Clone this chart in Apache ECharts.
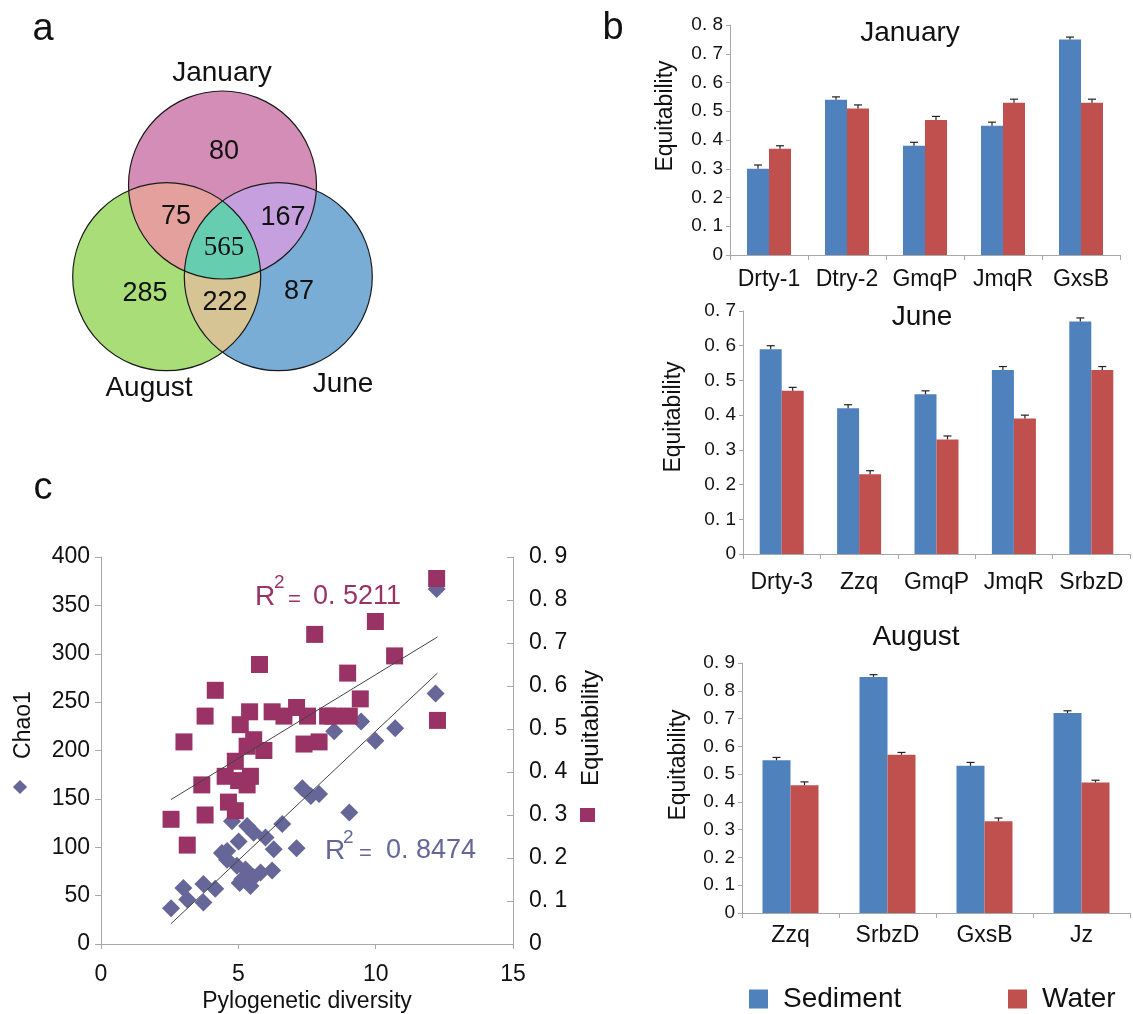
<!DOCTYPE html>
<html><head><meta charset="utf-8">
<script src="https://cdn.jsdelivr.net/npm/echarts@6/dist/echarts.min.js"></script>
<style>html,body{margin:0;padding:0;background:#fff}#c{width:1133px;height:1014px}</style>
</head><body><div id="c"></div>
<script>
// ---------------- data ----------------
const vennRegions = ['January', 'August', 'June', 'January ∩ August', 'January ∩ June', 'August ∩ June', 'January ∩ August ∩ June'];
const vennCounts = [80, 285, 87, 75, 167, 222, 565];

const janCategories = ['Drty-1', 'Dtry-2', 'GmqP', 'JmqR', 'GxsB'];
const janSediment = [0.30, 0.54, 0.38, 0.45, 0.75];
const janWater = [0.37, 0.51, 0.47, 0.53, 0.53];
const janSedimentErr = [0.013, 0.01, 0.012, 0.012, 0.008];
const janWaterErr = [0.01, 0.012, 0.012, 0.012, 0.012];

const junCategories = ['Drty-3', 'Zzq', 'GmqP', 'JmqR', 'SrbzD'];
const junSediment = [0.59, 0.42, 0.46, 0.53, 0.67];
const junWater = [0.47, 0.23, 0.33, 0.39, 0.53];
const junSedimentErr = [0.01, 0.01, 0.01, 0.01, 0.01];
const junWaterErr = [0.01, 0.01, 0.01, 0.01, 0.01];

const augCategories = ['Zzq', 'SrbzD', 'GxsB', 'Jz'];
const augSediment = [0.55, 0.85, 0.53, 0.72];
const augWater = [0.46, 0.57, 0.33, 0.47];
const augSedimentErr = [0.01, 0.008, 0.012, 0.008];
const augWaterErr = [0.012, 0.008, 0.012, 0.008];

// panel c: [phylogenetic diversity, Chao1]
const pdChao1 = [[2.55,37],[3.00,58],[3.14,46],[3.73,62],[3.73,43],[4.16,57],[4.40,94],[4.59,96],[4.59,87],[4.77,127],
  [4.95,81],[5.01,106],[5.05,63],[5.14,67],[5.26,77],[5.32,122],[5.44,60],[5.56,115],[5.56,69],[5.81,74],[5.99,110],
  [6.23,76],[6.29,98],[6.60,124],[7.12,99],[7.33,161],[7.64,153],[7.94,155],[8.49,220],[9.04,136],[9.47,230],
  [9.99,210],[10.71,223],[12.18,259],[12.22,367]];
// panel c: [phylogenetic diversity, Equitability]
const pdEquit = [[2.55,0.29],[3.14,0.23],[3.02,0.47],[3.67,0.37],[3.79,0.30],[3.79,0.53],[4.16,0.59],[4.52,0.39],
  [4.64,0.33],[4.89,0.31],[4.89,0.425],[5.01,0.38],[5.07,0.51],[5.32,0.37],[5.32,0.46],[5.41,0.54],[5.44,0.39],
  [5.56,0.475],[5.77,0.65],[5.93,0.45],[6.23,0.54],[6.66,0.53],[7.12,0.55],[7.52,0.53],[7.39,0.465],[7.94,0.47],
  [7.78,0.72],[8.25,0.53],[8.45,0.53],[9.04,0.53],[8.98,0.63],[9.44,0.57],[9.99,0.75],[10.69,0.67],[12.22,0.85],[12.25,0.52]];
const trendChao1 = [[2.55, 21], [12.25, 280]];
const trendEquit = [[2.55, 0.336], [12.25, 0.714]];
const r2Chao1 = '0. 8474';
const r2Equit = '0. 5211';

// ---------------- layout / style ----------------
const FONT = '"Liberation Sans", Arial, Helvetica, sans-serif';
const SERIF = '"Liberation Serif", "Times New Roman", serif';
const AXIS_GRAY = '#a8a8a8';
const BLUE = '#4F81BD', RED = '#C0504D';
const PURPLE = '#993366', SLATE = '#666699';
const TXT = '#111';

const vennCircles = [{cx:222.5, cy:185, r:94}, {cx:166.7, cy:276.7, r:94}, {cx:278.3, cy:276.7, r:94}];
const vennMembers = [[0],[1],[2],[0,1],[0,2],[1,2],[0,1,2]];
const vennColors = ['#D48DB6', '#A8DD78', '#7AADD5', '#E4A09D', '#C6A0DE', '#D6C494', '#66CDB0'];
const vennLabelPos = [[224,152],[145,294],[299,292],[176,217],[283,218],[225,303],[224,248]];
const vennSetLabelPos = [[222,73],[149,388],[343,384]];

function decFmt(v) { return v === 0 ? '0' : v.toFixed(1).replace('.', '. '); }

function regionPolygon(members) {
  const pts = [];
  const N = 720;
  members.forEach(m => {
    const c = vennCircles[m];
    for (let k = 0; k < N; k++) {
      const a = 2 * Math.PI * k / N;
      const x = c.cx + c.r * Math.cos(a), y = c.cy + c.r * Math.sin(a);
      const ok = members.every(o => o === m ||
        Math.hypot(x - vennCircles[o].cx, y - vennCircles[o].cy) <= vennCircles[o].r + 1e-9);
      if (ok) pts.push([x, y]);
    }
  });
  let mx = 0, my = 0;
  pts.forEach(p => { mx += p[0]; my += p[1]; });
  mx /= pts.length; my /= pts.length;
  pts.sort((p, q) => Math.atan2(p[1]-my, p[0]-mx) - Math.atan2(q[1]-my, q[0]-mx));
  return pts;
}

function renderVenn(params, api) {
  const i = params.dataIndex;
  const members = vennMembers[i];
  const children = [];
  if (members.length === 1) {
    const c = vennCircles[members[0]];
    const p = api.coord([c.cx, c.cy]);
    const rr = api.size([c.r, 0])[0];
    children.push({type:'circle', z2:0, shape:{cx:p[0], cy:p[1], r:rr}, style:{fill:vennColors[i]}});
    children.push({type:'circle', z2:5, shape:{cx:p[0], cy:p[1], r:rr}, style:{fill:null, stroke:'#1a1a1a', lineWidth:1.2}});
    const sp = api.coord(vennSetLabelPos[members[0]]);
    children.push({type:'text', z2:10, x:sp[0], y:sp[1], style:{text:vennRegions[i], fontSize:28, fontFamily:FONT, fill:TXT, align:'center', verticalAlign:'middle'}});
  } else {
    const pts = regionPolygon(members).map(p => api.coord(p));
    children.push({type:'polygon', z2:members.length, shape:{points:pts}, style:{fill:vennColors[i]}});
  }
  const lp = api.coord(vennLabelPos[i]);
  children.push({type:'text', z2:10, x:lp[0], y:lp[1], style:{text:String(api.value(0)), fontSize: members.length === 3 ? 27 : 27,
    fontFamily: members.length === 3 ? SERIF : FONT, fill:TXT, align:'center', verticalAlign:'middle'}});
  return {type:'group', children};
}

function catAxis(gridIndex, data, margin) {
  return {type:'category', gridIndex, data,
    axisLine:{lineStyle:{color:AXIS_GRAY}},
    axisTick:{show:true, length:5, lineStyle:{color:AXIS_GRAY}},
    axisLabel:{interval:0, margin, color:TXT, fontFamily:FONT, fontSize:23},
    splitLine:{show:false}};
}
function valAxis(gridIndex, max) {
  return {type:'value', gridIndex, min:0, max, interval:0.1,
    axisLine:{show:true, lineStyle:{color:AXIS_GRAY}},
    axisTick:{show:true, length:4, lineStyle:{color:AXIS_GRAY}},
    axisLabel:{margin:7, color:TXT, fontFamily:FONT, fontSize:19, formatter:decFmt},
    splitLine:{show:false}};
}
function barSeries(idx, name, data, color, bw) {
  return {type:'bar', name, xAxisIndex:idx, yAxisIndex:idx, data, barWidth:bw, barGap:'0%',
    itemStyle:{color}, z:2};
}
function errSeries(idx, sed, sedErr, wat, watErr, bw) {
  const d = [];
  sed.forEach((v, i) => d.push([i, v, sedErr[i], -1]));
  wat.forEach((v, i) => d.push([i, v, watErr[i], 1]));
  return {type:'custom', xAxisIndex:idx, yAxisIndex:idx, data:d, z:3, silent:true,
    renderItem(params, api) {
      const base = api.coord([api.value(0), api.value(1)]);
      const top = api.coord([api.value(0), api.value(1) + api.value(2)]);
      const x = base[0] + api.value(3) * bw / 2;
      const st = {stroke:'#222', lineWidth:1.2};
      return {type:'group', children:[
        {type:'line', shape:{x1:x, y1:base[1], x2:x, y2:top[1]}, style:st},
        {type:'line', shape:{x1:x-4, y1:top[1], x2:x+4, y2:top[1]}, style:st}
      ]};
    }};
}

const BW = {jan:22, jun:22, aug:28};

function txt(text, x, y, size, opts) {
  opts = opts || {};
  return {type:'text', x, y, rotation: opts.rotation || 0, z:10,
    style:{text, fontSize:size, fontFamily: opts.font || FONT, fill: opts.fill || TXT,
      align: opts.align || 'center', verticalAlign:'middle'}};
}

const chart = echarts.init(document.getElementById('c'), null, {renderer:'canvas'});
chart.setOption({
  animation:false,
  backgroundColor:'#fff',
  grid:[
    {left:0, top:0, width:450, height:420},
    {left:730, top:25, width:390, height:230},
    {left:743, top:311, width:387, height:243},
    {left:742, top:663, width:388, height:250},
    {left:101, top:557, width:412, height:388}
  ],
  xAxis:[
    {type:'value', gridIndex:0, min:0, max:450, show:false},
    catAxis(1, janCategories, 13),
    catAxis(2, junCategories, 17),
    catAxis(3, augCategories, 11),
    {type:'value', gridIndex:4, min:0, max:15, interval:5,
      name:'Pylogenetic diversity', nameLocation:'middle', nameGap:46,
      nameTextStyle:{fontFamily:FONT, fontSize:23, color:TXT},
      axisLine:{lineStyle:{color:AXIS_GRAY}},
      axisTick:{show:true, length:5, lineStyle:{color:AXIS_GRAY}},
      axisLabel:{margin:19, color:TXT, fontFamily:FONT, fontSize:23},
      splitLine:{show:false}}
  ],
  yAxis:[
    {type:'value', gridIndex:0, min:0, max:420, inverse:true, show:false},
    valAxis(1, 0.8),
    valAxis(2, 0.7),
    valAxis(3, 0.9),
    {type:'value', gridIndex:4, min:0, max:400, interval:50, position:'left',
      axisLine:{show:true, lineStyle:{color:AXIS_GRAY}},
      axisTick:{show:true, length:6, lineStyle:{color:AXIS_GRAY}},
      axisLabel:{margin:11, color:TXT, fontFamily:FONT, fontSize:23},
      splitLine:{show:false}},
    {type:'value', gridIndex:4, min:0, max:0.9, interval:0.1, position:'right',
      axisLine:{show:true, lineStyle:{color:AXIS_GRAY}},
      axisTick:{show:true, inside:true, length:6, lineStyle:{color:AXIS_GRAY}},
      axisLabel:{margin:16, color:TXT, fontFamily:FONT, fontSize:23, formatter:decFmt},
      splitLine:{show:false}}
  ],
  legend:[
    {data:['Sediment'], left:749, top:985, padding:0, itemWidth:19, itemHeight:19, icon:'rect', selectedMode:false,
      textStyle:{fontSize:28, fontFamily:FONT, color:TXT, padding:[0,0,0,10]}},
    {data:['Water'], left:1008, top:985, padding:0, itemWidth:19, itemHeight:19, icon:'rect', selectedMode:false,
      textStyle:{fontSize:28, fontFamily:FONT, color:TXT, padding:[0,0,0,10]}}
  ],
  series:[
    {type:'custom', name:'Venn', xAxisIndex:0, yAxisIndex:0, silent:true,
      data: vennCounts.map((v, i) => ({name: vennRegions[i], value:[v]})),
      encode:{x:0, y:0}, renderItem: renderVenn},

    barSeries(1, 'Sediment', janSediment, BLUE, BW.jan),
    barSeries(1, 'Water', janWater, RED, BW.jan),
    errSeries(1, janSediment, janSedimentErr, janWater, janWaterErr, BW.jan),

    barSeries(2, 'Sediment', junSediment, BLUE, BW.jun),
    barSeries(2, 'Water', junWater, RED, BW.jun),
    errSeries(2, junSediment, junSedimentErr, junWater, junWaterErr, BW.jun),

    barSeries(3, 'Sediment', augSediment, BLUE, BW.aug),
    barSeries(3, 'Water', augWater, RED, BW.aug),
    errSeries(3, augSediment, augSedimentErr, augWater, augWaterErr, BW.aug),

    {type:'scatter', name:'Chao1', xAxisIndex:4, yAxisIndex:4, data:pdChao1, symbol:'diamond', symbolSize:18,
      itemStyle:{color:SLATE, opacity:1}, z:2},
    {type:'scatter', name:'Equitability', xAxisIndex:4, yAxisIndex:5, data:pdEquit, symbol:'rect', symbolSize:17,
      itemStyle:{color:PURPLE, opacity:1}, z:3},
    {type:'line', name:'Chao1 trend', xAxisIndex:4, yAxisIndex:4, data:trendChao1, symbol:'none',
      lineStyle:{color:'#444', width:1}, z:4, silent:true},
    {type:'line', name:'Equitability trend', xAxisIndex:4, yAxisIndex:5, data:trendEquit, symbol:'none',
      lineStyle:{color:'#444', width:1}, z:4, silent:true}
  ],
  graphic:[
    txt('a', 43, 30, 38),
    txt('b', 613, 29, 38),
    txt('c', 43, 489, 38),
    txt('January', 910, 33, 28),
    txt('June', 922, 317, 28),
    txt('August', 916, 637, 28),
    txt('Equitability', 666, 116, 23, {rotation:Math.PI/2}),
    txt('Equitability', 674, 417, 23, {rotation:Math.PI/2}),
    txt('Equitability', 679, 765, 23, {rotation:Math.PI/2}),
    txt('Chao1', 24, 725, 23, {rotation:Math.PI/2}),
    {type:'rect', x:20, y:787, rotation:Math.PI/4, shape:{x:-5, y:-5, width:10, height:10}, style:{fill:SLATE}},
    txt('Equitability', 591, 728, 24, {rotation:Math.PI/2}),
    {type:'rect', x:580, y:808, shape:{x:0, y:0, width:15, height:14}, style:{fill:PURPLE}},
    // R^2 labels
    txt('R', 255, 597, 28, {align:'left', fill:PURPLE}),
    txt('2', 274, 583, 19, {align:'left', fill:PURPLE}),
    txt('=', 288, 600, 22, {align:'left', fill:PURPLE}),
    txt(r2Equit, 313, 597, 27, {align:'left', fill:PURPLE}),
    txt('R', 325, 851, 28, {align:'left', fill:SLATE}),
    txt('2', 343, 838, 19, {align:'left', fill:SLATE}),
    txt('=', 359, 854, 22, {align:'left', fill:SLATE}),
    txt(r2Chao1, 386, 851, 27, {align:'left', fill:SLATE})
  ]
});
</script></body></html>
